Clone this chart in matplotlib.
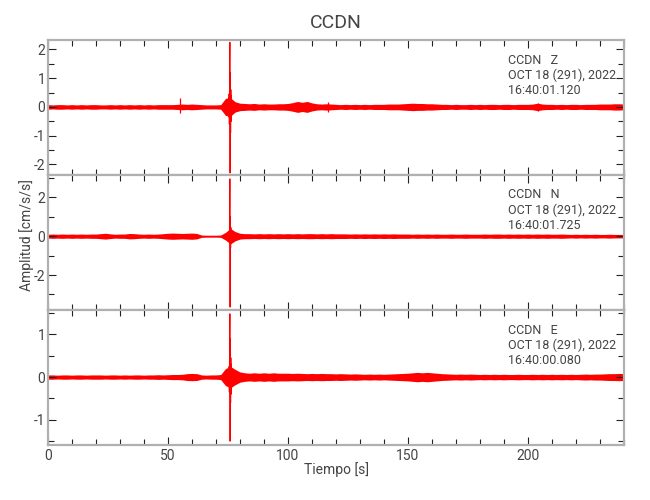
import numpy as np
import matplotlib
matplotlib.use('Agg')
import matplotlib.pyplot as plt
from matplotlib.ticker import MultipleLocator

plt.rcParams['font.family'] = ['Roboto', 'DejaVu Sans']
plt.rcParams['axes.unicode_minus'] = False

# envolvente del ruido de fondo, cada 2 s (0..240 s)
t_env = np.arange(0, 241, 2)

z_env = [0.08, 0.07, 0.08, 0.08, 0.07, 0.08, 0.07, 0.08, 0.07, 0.08, 0.08, 0.07, 0.07,
         0.08, 0.07, 0.08, 0.07, 0.08, 0.07, 0.08, 0.07, 0.08, 0.07, 0.08, 0.08,
         0.08, 0.08, 0.09, 0.10, 0.09, 0.10, 0.09, 0.08, 0.07, 0.07, 0.07, 0.08, 0.30,
         0.32, 0.18, 0.13, 0.12, 0.11, 0.12, 0.10, 0.11, 0.10, 0.10, 0.11, 0.11,
         0.12, 0.15, 0.19, 0.16, 0.19, 0.14, 0.11, 0.10, 0.11, 0.10, 0.09, 0.08, 0.09,
         0.08, 0.09, 0.08, 0.09, 0.08, 0.09, 0.09, 0.09, 0.10, 0.10, 0.10, 0.11,
         0.12, 0.13, 0.12, 0.12, 0.11, 0.11, 0.10, 0.09, 0.09, 0.08, 0.09, 0.08, 0.08,
         0.09, 0.08, 0.09, 0.08, 0.09, 0.09, 0.08, 0.09, 0.09, 0.08, 0.09, 0.09,
         0.09, 0.10, 0.13, 0.10, 0.09, 0.09, 0.08, 0.09, 0.08, 0.09, 0.09, 0.08, 0.09,
         0.09, 0.09, 0.10, 0.10, 0.10, 0.11, 0.11, 0.10]

n_env = [0.10, 0.11, 0.10, 0.11, 0.10, 0.11, 0.10, 0.11, 0.10, 0.11, 0.11, 0.13, 0.15,
         0.12, 0.10, 0.11, 0.11, 0.14, 0.13, 0.11, 0.10, 0.11, 0.10, 0.11, 0.13,
         0.15, 0.16, 0.15, 0.14, 0.15, 0.16, 0.14, 0.06, 0.05, 0.05, 0.05, 0.06, 0.20,
         0.40, 0.24, 0.15, 0.13, 0.13, 0.12, 0.13, 0.12, 0.13, 0.12, 0.13, 0.12,
         0.13, 0.12, 0.13, 0.12, 0.13, 0.13, 0.12, 0.13, 0.12, 0.13, 0.12, 0.12, 0.12,
         0.11, 0.12, 0.11, 0.12, 0.11, 0.12, 0.11, 0.12, 0.11, 0.12, 0.11, 0.11,
         0.11, 0.10, 0.11, 0.10, 0.11, 0.10, 0.11, 0.10, 0.10, 0.11, 0.10, 0.10, 0.11,
         0.10, 0.10, 0.10, 0.11, 0.10, 0.11, 0.11, 0.10, 0.11, 0.10, 0.11, 0.10,
         0.11, 0.10, 0.11, 0.10, 0.11, 0.10, 0.10, 0.11, 0.10, 0.09, 0.10, 0.09, 0.10,
         0.09, 0.10, 0.09, 0.09, 0.10, 0.09, 0.09, 0.09]

e_env = [0.05, 0.05, 0.045, 0.05, 0.05, 0.045, 0.05, 0.05, 0.045, 0.05, 0.05, 0.05, 0.045,
         0.05, 0.05, 0.045, 0.05, 0.045, 0.05, 0.05, 0.045, 0.05, 0.05, 0.055, 0.05,
         0.055, 0.06, 0.06, 0.065, 0.08, 0.085, 0.08, 0.05, 0.045, 0.05, 0.05, 0.06, 0.20,
         0.25, 0.18, 0.12, 0.10, 0.09, 0.10, 0.09, 0.10, 0.09, 0.10, 0.09, 0.09,
         0.09, 0.085, 0.09, 0.085, 0.08, 0.085, 0.08, 0.085, 0.08, 0.08, 0.075, 0.08, 0.075,
         0.07, 0.075, 0.07, 0.065, 0.07, 0.065, 0.07, 0.065, 0.07, 0.075, 0.08, 0.085,
         0.09, 0.10, 0.11, 0.10, 0.11, 0.10, 0.09, 0.08, 0.075, 0.07, 0.065, 0.07, 0.065,
         0.07, 0.065, 0.06, 0.065, 0.06, 0.065, 0.06, 0.065, 0.06, 0.06, 0.065, 0.06,
         0.06, 0.065, 0.06, 0.065, 0.06, 0.065, 0.06, 0.065, 0.06, 0.065, 0.06, 0.065, 0.07,
         0.065, 0.07, 0.07, 0.075, 0.08, 0.08, 0.085, 0.08]

# llegada principal (muestras cada 0.1 s)
t_spk = [75.3, 75.4, 75.5, 75.6, 75.7, 75.8, 75.9, 76.0, 76.1, 76.2, 76.3, 76.4, 76.5, 76.6]
z_spk = [0.30, -0.35, 0.45, -0.60, 1.10, 2.25, -2.30, 1.20, -0.90, 0.60, -0.50, 0.40, -0.30, 0.20]
n_spk = [0.10, -0.15, 0.20, -0.30, 0.60, 2.95, -3.65, 1.00, -0.60, 0.45, -0.35, 0.30, -0.25, 0.20]
e_spk = [0.15, -0.20, 0.25, -0.35, 0.70, 1.48, -1.50, 0.90, -0.60, 0.45, -0.40, 0.30, -0.25, 0.20]

# pulsos pequeños
z_blip_t = [55.0, 116.8, 204.1]
z_blip_hi = [0.32, 0.17, 0.13]
z_blip_lo = [-0.20, -0.17, -0.13]

comps = ['Z', 'N', 'E']
horas = ['16:40:01.120', '16:40:01.725', '16:40:00.080']
envs = [z_env, n_env, e_env]
spks = [z_spk, n_spk, e_spk]
ylims = [(-2.37, 2.33), (-3.8, 3.15), (-1.59, 1.57)]
ymaj = [1, 2, 1]
ymin = [0.5, 1, 0.5]

fig = plt.figure(figsize=(6.5, 5), dpi=100)
txtc = '#444444'
bottoms = [0.65, 0.38, 0.11]

for i in range(3):
    ax = fig.add_axes([0.0738, bottoms[i], 0.886, 0.27])
    env = np.array(envs[i])
    ax.fill_between(t_env, -env, env, color='red', lw=0)
    ax.plot(t_spk, spks[i], color='red', lw=0.8)
    if i == 0:
        ax.vlines(z_blip_t, z_blip_lo, z_blip_hi, color='red', lw=0.9)
    ax.set_xlim(0, 240)
    ax.set_ylim(*ylims[i])
    ax.xaxis.set_major_locator(MultipleLocator(50))
    ax.xaxis.set_minor_locator(MultipleLocator(10))
    ax.yaxis.set_major_locator(MultipleLocator(ymaj[i]))
    ax.yaxis.set_minor_locator(MultipleLocator(ymin[i]))
    ax.tick_params(which='both', direction='in', top=True, right=True,
                   colors='#222222', labelcolor=txtc, labelsize=10, width=0.8)
    ax.tick_params(which='major', length=6)
    ax.tick_params(which='minor', length=4)
    ax.tick_params(axis='y', pad=2)
    ax.tick_params(axis='x', pad=3)
    if i < 2:
        ax.tick_params(labelbottom=False)
    for s in ax.spines.values():
        s.set_color('#b0b0b0')
        s.set_linewidth(1.6)
    ax.text(0.798, 0.9, 'CCDN   ' + comps[i] + '\nOCT 18 (291), 2022\n' + horas[i],
            transform=ax.transAxes, ha='left', va='top', fontsize=9,
            color=txtc, linespacing=1.2)

fig.text(0.517, 0.954, 'CCDN', ha='center', va='center', fontsize=14, color=txtc)
fig.text(0.517, 0.06, 'Tiempo [s]', ha='center', va='center', fontsize=10, color=txtc)
fig.text(0.041, 0.53, 'Amplitud [cm/s/s]', ha='center', va='center', rotation=90,
         fontsize=10, color=txtc)

fig.savefig('out.png', dpi=100)
